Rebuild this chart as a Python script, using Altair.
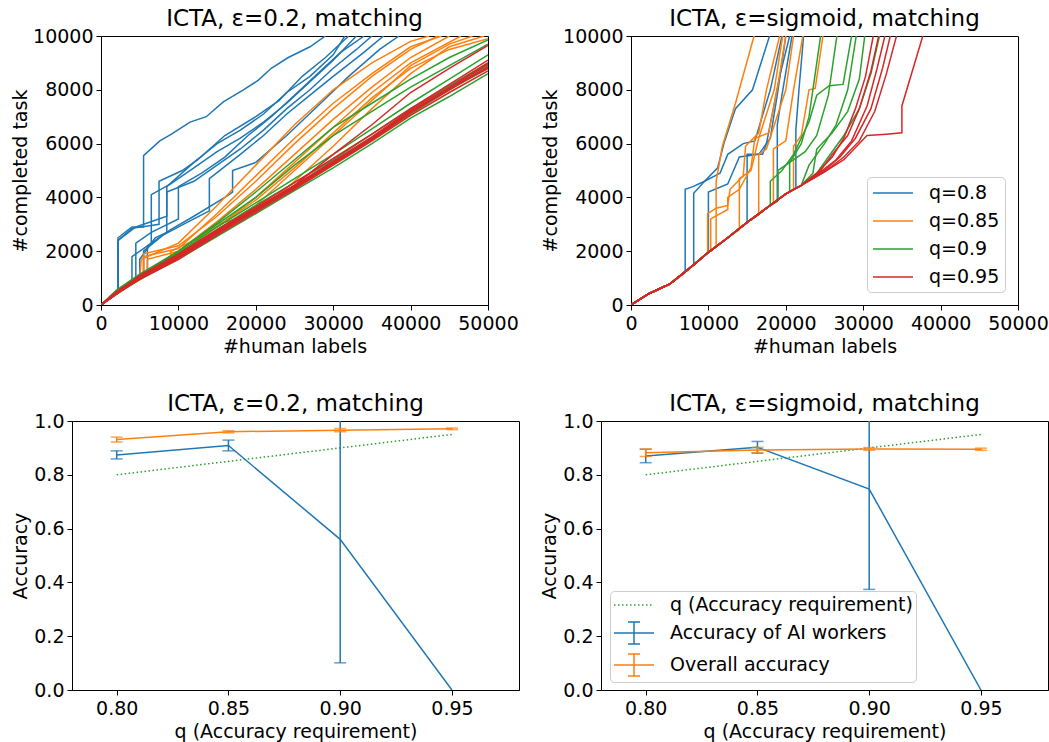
import altair as alt
import pandas as pd

# ---------------- data: top panels (#human labels vs #completed task) ----------------
Q_LABELS = ["q=0.8", "q=0.85", "q=0.9", "q=0.95"]
Q_COLORS = ["#1f77b4", "#ff7f0e", "#2ca02c", "#d62728"]

GRID_X = [0, 2000, 5000, 10000, 15000, 20000, 25000, 30000, 35000, 40000, 45000, 50000]

# Top-left: eps=0.2
TL_BLUE = [
    ([0, 1500, 2200, 2200, 4000, 5500, 5500, 7600, 9100, 11500, 13600, 15800, 18400, 20300, 22000, 24200, 27000, 29000],
     [0, 400, 450, 2500, 2900, 2900, 5550, 6100, 6350, 6800, 7000, 7550, 8000, 8350, 8800, 9200, 9600, 10000]),
    ([0, 2200, 2200, 4000, 7500, 7500, 10500, 12500, 16000, 20000, 23000, 26000, 29000, 32000],
     [0, 450, 2400, 2850, 3000, 4600, 5000, 5400, 6300, 7000, 7600, 8500, 9200, 10000]),
    ([0, 2000, 4000, 4000, 6000, 6500, 6500, 9000, 12000, 15000, 18000, 21000, 24000, 27000, 30000, 33000],
     [0, 450, 800, 1800, 2200, 2300, 4100, 4500, 5100, 5700, 6200, 6800, 7500, 8300, 9100, 10000]),
    ([0, 2000, 5000, 5000, 7000, 8500, 8500, 12000, 15000, 18000, 21000, 24000, 27000, 30000, 33000, 35000],
     [0, 450, 1000, 1700, 2500, 2700, 4200, 4600, 5200, 5800, 6500, 7300, 8000, 8800, 9500, 10000]),
    ([0, 2000, 5500, 5500, 8000, 12000, 14000, 14000, 18000, 21000, 24000, 27000, 30000, 34000, 36500],
     [0, 450, 1100, 2000, 2600, 3200, 3500, 4700, 5600, 6300, 7100, 7800, 8500, 9400, 10000]),
    ([0, 2000, 6000, 6000, 9000, 12000, 16000, 17000, 17000, 20000, 24000, 28000, 32000, 36000, 38500],
     [0, 450, 1150, 2200, 2800, 3300, 4000, 4200, 5000, 5300, 6300, 7400, 8500, 9500, 10000]),
    ([0, 2200, 2200, 4500, 8500, 8500, 12000, 15000, 18000, 21000, 24000, 27000, 30000, 31500],
     [0, 450, 2400, 2900, 3300, 4400, 5300, 6000, 6500, 7100, 7900, 8500, 9300, 10000]),
    ([0, 2000, 4500, 4500, 6500, 10000, 10000, 13000, 16000, 19000, 22000, 25000, 28000, 31000, 34000],
     [0, 450, 900, 2300, 2700, 3200, 4400, 4900, 5500, 6300, 7000, 7800, 8600, 9400, 10000]),
]
TL_ORANGE = [
    ([0, 2000, 5000, 5200, 10000, 15000, 20000, 25000, 30000, 35000, 40000, 42400],
     [0, 450, 1000, 1700, 2300, 3700, 5200, 6700, 8000, 9000, 9800, 10000]),
    ([0, 2000, 5500, 5500, 10000, 15000, 20000, 25000, 30000, 35000, 40000, 43500],
     [0, 450, 1050, 1900, 2200, 3300, 4600, 6000, 7300, 8500, 9500, 10000]),
    ([0, 2000, 6000, 6000, 10000, 15000, 20000, 25000, 30000, 35000, 40000, 45000],
     [0, 450, 1100, 1700, 2000, 3100, 4300, 5600, 6900, 8100, 9200, 10000]),
    ([0, 2000, 7000, 10000, 15000, 20000, 25000, 30000, 35000, 40000, 46500],
     [0, 450, 1300, 1900, 2900, 4000, 5300, 6600, 7900, 9000, 10000]),
    ([0, 2000, 5000, 10000, 15000, 20000, 25000, 30000, 35000, 40000, 45000, 48000],
     [0, 450, 1000, 1750, 2800, 3700, 5000, 6300, 7600, 8900, 9700, 10000]),
    ([0, 2000, 8000, 10000, 15000, 20000, 25000, 30000, 35000, 40000, 45000, 49500],
     [0, 450, 1500, 1800, 3000, 3400, 4600, 5900, 7300, 8600, 9600, 10000]),
    ([0, 2000, 5500, 5500, 10000, 15000, 20000, 25000, 30000, 35000, 40000, 44000],
     [0, 450, 1100, 1800, 2100, 3400, 4800, 6200, 7500, 8600, 9600, 10000]),
    ([0, 2000, 9000, 9000, 12000, 15000, 20000, 25000, 30000, 35000, 40000, 45000, 50000],
     [0, 450, 1600, 2000, 2400, 2900, 3900, 5100, 6400, 7700, 8800, 9500, 9900]),
]
TL_GREEN = [
    (GRID_X, [0, 500, 1100, 1900, 2800, 3700, 4550, 5400, 6350, 7300, 8150, 9000]),
    (GRID_X, [0, 450, 1050, 1850, 2750, 3600, 4450, 5300, 6200, 7200, 8000, 8800]),
    (GRID_X, [0, 550, 1150, 2000, 3000, 4000, 5200, 6300, 7200, 8100, 8900, 9700]),
    (GRID_X, [0, 500, 1100, 2000, 3050, 4200, 5400, 6600, 7500, 8400, 9200, 9850]),
    (GRID_X, [0, 400, 950, 1700, 2550, 3400, 4250, 5100, 6000, 6950, 7750, 8600]),
    (GRID_X, [0, 500, 1100, 1950, 2900, 3800, 4700, 5600, 6550, 7500, 8400, 9300]),
    (GRID_X, [0, 450, 1000, 1800, 2700, 3550, 4400, 5250, 6150, 7100, 8000, 8900]),
]
TL_RED = [
    (GRID_X, [0, 450, 1000, 1750, 2650, 3500, 4350, 5250, 6150, 7150, 8000, 8850]),
    (GRID_X, [0, 500, 1050, 1850, 2750, 3600, 4450, 5350, 6250, 7250, 8100, 9000]),
    (GRID_X, [0, 400, 950, 1700, 2600, 3450, 4300, 5200, 6100, 7050, 7900, 8700]),
    (GRID_X, [0, 450, 1100, 1900, 2800, 3650, 4550, 5450, 6350, 7300, 8200, 9100]),
    (GRID_X, [0, 500, 1000, 1800, 2700, 3550, 4400, 5300, 6200, 7200, 8050, 8950]),
    (GRID_X, [0, 450, 1000, 1800, 2700, 3550, 4450, 5600, 6700, 7900, 8800, 9650]),
    (GRID_X, [0, 400, 1000, 1750, 2650, 3550, 4400, 5300, 6200, 7150, 8050, 8800]),
]

# Top-right: eps=sigmoid. Every run follows the common start curve up to point k, then its own tail.
TR_BASE_X = [0, 2300, 5000, 7500, 10000, 12500, 15000, 17500, 20000, 22000]
TR_BASE_Y = [0, 420, 780, 1350, 1960, 2500, 3070, 3600, 4130, 4450]

TR_BLUE = [
    (3, [7000, 7000, 8000, 9500, 11200, 12000, 13500, 15700, 17900],
        [1200, 4300, 4400, 4600, 5100, 6000, 7300, 8000, 10000]),
    (4, [8100, 8100, 9500, 11500, 12500, 14500, 16000, 18000, 19500],
        [1500, 4150, 4600, 4900, 5600, 6000, 6100, 8000, 10000]),
    (5, [10000, 12500, 14000, 16500, 18000, 19000, 20000],
        [4200, 4500, 5500, 5600, 6200, 8000, 10000]),
    (7, [15000, 17000, 17500, 19200, 20500],
        [5600, 5600, 6000, 8500, 10000]),
    (8, [18900, 18900, 19500, 20800],
        [3850, 6700, 7800, 10000]),
    (9, [21300, 21300, 21700, 22300],
        [4350, 6500, 8000, 10000]),
]
TR_ORANGE = [
    (4, [9900, 9900, 11000, 12500, 12800, 14500, 14800, 16500, 17500, 19200],
        [1950, 3400, 3600, 3700, 4300, 4800, 5900, 6400, 8000, 10000]),
    (5, [10300, 10300, 12500, 12500, 14000, 15500, 16000, 17800, 19000, 20000],
        [2030, 3200, 3550, 4000, 4300, 5100, 6200, 6400, 8200, 10000]),
    (5, [11000, 11000, 11800, 13500, 15900],
        [2200, 4600, 5900, 7500, 10000]),
    (6, [14000, 14000, 15500, 16500, 18500, 19600],
        [2800, 4700, 5000, 6200, 8000, 10000]),
    (7, [16500, 16500, 17500, 18300, 20000, 21000],
        [3350, 5600, 5800, 6500, 8000, 10000]),
    (8, [18400, 18400, 20000, 21000, 22200],
        [3800, 5800, 6100, 8000, 10000]),
    (9, [21000, 21000, 22000, 23000, 23800, 24800],
        [4300, 5900, 6300, 8000, 8050, 10000]),
]
TR_GREEN = [
    (8, [18000, 18000, 19500, 21000, 23000, 24000, 25600, 27400, 28500],
        [3700, 4600, 5000, 5600, 6800, 7800, 8150, 8200, 10000]),
    (8, [19000, 19000, 20500, 22000, 23000, 24500],
        [3900, 5000, 5300, 6000, 7000, 10000]),
    (9, [20500, 20500, 22500, 24000, 25500, 26600],
        [4200, 5300, 5700, 6300, 7800, 10000]),
    (10, [23000, 25000, 26500, 28000, 29100],
         [5200, 6000, 6700, 8000, 10000]),
    (10, [23500, 24000, 26000, 28000, 29500, 30200],
         [4900, 5800, 6400, 7200, 8400, 10000]),
    (10, [24000, 25500, 27500, 29500, 31000, 32100],
         [4900, 5500, 6300, 7300, 8600, 10000]),
]
TR_RED = [
    (10, [24000, 26000, 27500, 29000, 30300, 31300],
         [4900, 5500, 6200, 7300, 8500, 10000]),
    (10, [24500, 26000, 28000, 29500, 31000, 32000],
         [5000, 5600, 6300, 7300, 8700, 10000]),
    (10, [24500, 26500, 28500, 30500, 31800, 32800],
         [4950, 5400, 6100, 7400, 8800, 10000]),
    (10, [25000, 27000, 29000, 31000, 32500, 33500],
         [5000, 5500, 6200, 7300, 8800, 10000]),
    (10, [25000, 27500, 29500, 31500, 33000, 34300],
         [4950, 5500, 6100, 7200, 8600, 10000]),
    (10, [25000, 27500, 30500, 33000, 35000, 35000, 37700],
         [4950, 5400, 6300, 6350, 6400, 7400, 10000]),
]

# ---------------- data: bottom panels (accuracy) ----------------
Q_VALUES = [0.80, 0.85, 0.90, 0.95]
BL_AI_MEAN = [0.874, 0.909, 0.560, 0.0]
BL_AI_ERR = [0.015, 0.020, 0.459, 0.0]
BL_ALL_MEAN = [0.931, 0.960, 0.966, 0.971]
BL_ALL_ERR = [0.009, 0.004, 0.006, 0.003]

BR_AI_MEAN = [0.870, 0.902, 0.747, 0.0]
BR_AI_ERR = [0.025, 0.022, 0.373, 0.0]
BR_ALL_MEAN = [0.882, 0.892, 0.896, 0.895]
BR_ALL_ERR = [0.014, 0.010, 0.005, 0.004]

LEG_LABELS = ["q (Accuracy requirement)", "Accuracy of AI workers", "Overall accuracy"]
GREEN, BLUE, ORANGE = "#2ca02c", "#1f77b4", "#ff7f0e"
# legend glyphs (unit = 10 px at symbol size 400): a 40 px line, and a line with an error bar
LINE_PATH = "M-1,0H3"
EB_PATH = "M-1,0H3M1,-1.1V1.1M0.4,-1.1H1.6M0.4,1.1H1.6"

FONT = "DejaVu Sans"
FS = 19


def runs_frame(groups):
    rows = []
    for label, runs in groups:
        for k, (xs, ys) in enumerate(runs):
            for i, (x, y) in enumerate(zip(xs, ys)):
                rows.append({"q": label, "run": f"{label}-{k}", "i": i, "x": x, "y": y})
    return pd.DataFrame(rows)


def with_base(runs):
    return [(TR_BASE_X[:k] + xs, TR_BASE_Y[:k] + ys) for k, xs, ys in runs]


tl_df = runs_frame(list(zip(Q_LABELS, [TL_BLUE, TL_ORANGE, TL_GREEN, TL_RED])))
tr_df = runs_frame(list(zip(Q_LABELS, [with_base(TR_BLUE), with_base(TR_ORANGE),
                                       with_base(TR_GREEN), with_base(TR_RED)])))


def title(text):
    return alt.Title(text, fontSize=23, fontWeight="normal", font=FONT, color="black",
                     anchor="middle", baseline="alphabetic", offset=-22)


def runs_chart(df, ttl, legend):
    return alt.Chart(df, title=title(ttl)).mark_line(strokeWidth=1.5, clip=True).encode(
        x=alt.X("x:Q", scale=alt.Scale(domain=[0, 50000], nice=False),
                axis=alt.Axis(values=[0, 10000, 20000, 30000, 40000, 50000], format="d",
                              title="#human labels", labelFlush=False, labelOverlap=False)),
        y=alt.Y("y:Q", scale=alt.Scale(domain=[0, 10000], nice=False),
                axis=alt.Axis(values=[0, 2000, 4000, 6000, 8000, 10000], format="d",
                              title="#completed task", titleX=-75, titleBaseline="alphabetic",
                              labelFlush=False, labelOverlap=False)),
        color=alt.Color("q:N", scale=alt.Scale(domain=Q_LABELS, range=Q_COLORS), legend=legend),
        detail="run:N",
        order="i:Q",
    ).properties(width=387, height=269)


tr_legend = alt.Legend(title=None, orient="none", legendX=236, legendY=141, symbolType=LINE_PATH,
                       symbolSize=400, symbolStrokeWidth=1.5, labelFontSize=FS, labelFont=FONT,
                       padding=5, rowPadding=7, labelOffset=35, fillColor="white",
                       strokeColor="#cccccc", cornerRadius=4)

tl = runs_chart(tl_df, "ICTA, ε=0.2, matching", None)
tr = runs_chart(tr_df, "ICTA, ε=sigmoid, matching", tr_legend)


def acc_chart(ttl, ai_mean, ai_err, all_mean, all_err, with_legend):
    qdf = pd.DataFrame({"q": Q_VALUES, "v": Q_VALUES})
    ai = pd.DataFrame({"q": Q_VALUES, "v": ai_mean, "e": ai_err})
    ov = pd.DataFrame({"q": Q_VALUES, "v": all_mean, "e": all_err})
    for d in (ai, ov):
        d["lo"] = d["v"] - d["e"]
        d["hi"] = d["v"] + d["e"]

    X = alt.X("q:Q", scale=alt.Scale(domain=[0.78, 0.98], nice=False, zero=False),
              axis=alt.Axis(values=Q_VALUES, format=".2f", title="q (Accuracy requirement)",
                            labelFlush=False, labelOverlap=False))

    def Y(f):
        return alt.Y(f + ":Q", scale=alt.Scale(domain=[0, 1], nice=False),
                     axis=alt.Axis(values=[0, 0.2, 0.4, 0.6, 0.8, 1.0], format=".1f", title="Accuracy",
                                   titleX=-46, titleBaseline="alphabetic", labelFlush=False,
                                   labelOverlap=False),
                     title="Accuracy")

    layers = [
        alt.Chart(qdf).mark_line(color=GREEN, strokeWidth=1.5, strokeDash=[1.5, 2.5], clip=True)
        .encode(x=X, y=Y("v")),
    ]
    for d, col in ((ai, BLUE), (ov, ORANGE)):
        eb = d[d["e"] > 0]
        layers += [
            alt.Chart(d).mark_line(color=col, strokeWidth=1.5, clip=True).encode(x=X, y=Y("v")),
            alt.Chart(eb).mark_rule(color=col, strokeWidth=1.5, clip=True)
            .encode(x=X, y=Y("lo"), y2="hi:Q"),
            alt.Chart(eb).mark_tick(color=col, orient="horizontal", size=12, thickness=1.5, clip=True)
            .encode(x=X, y=Y("lo")),
            alt.Chart(eb).mark_tick(color=col, orient="horizontal", size=12, thickness=1.5, clip=True)
            .encode(x=X, y=Y("hi")),
        ]
    if with_legend:
        leg = alt.Legend(title=None, orient="none", legendX=9, legendY=170, symbolSize=400,
                         symbolStrokeWidth=1.5, labelFontSize=FS, labelFont=FONT, labelLimit=400,
                         padding=3, rowPadding=4, labelOffset=35, fillColor="white",
                         strokeColor="#cccccc", cornerRadius=4)
        ldf = pd.DataFrame({"s": LEG_LABELS})
        layers.append(
            alt.Chart(ldf).mark_point(filled=False, opacity=1, strokeWidth=1.5).encode(
                color=alt.Color("s:N", scale=alt.Scale(domain=LEG_LABELS, range=[GREEN, BLUE, ORANGE]),
                                legend=leg),
                shape=alt.Shape("s:N", scale=alt.Scale(domain=LEG_LABELS,
                                                       range=[LINE_PATH, EB_PATH, EB_PATH]), legend=leg),
                strokeDash=alt.StrokeDash("s:N", scale=alt.Scale(domain=LEG_LABELS,
                                                                 range=[[1.5, 2.5], [1, 0], [1, 0]]),
                                          legend=leg),
            ).transform_filter("false")
        )
    return alt.layer(*layers, title=title(ttl)).properties(width=447, height=269)


def spacer(w):
    return alt.Chart(pd.DataFrame({"s": [0]})).mark_point(opacity=0).properties(
        width=w, height=269, view=alt.ViewBackground(strokeOpacity=0, strokeWidth=0))


bl = acc_chart("ICTA, ε=0.2, matching", BL_AI_MEAN, BL_AI_ERR, BL_ALL_MEAN, BL_ALL_ERR, False)
br = acc_chart("ICTA, ε=sigmoid, matching", BR_AI_MEAN, BR_AI_ERR, BR_ALL_MEAN, BR_ALL_ERR, True)

top = alt.hconcat(spacer(29), tl, spacer(143), tr, spacing=0, bounds="flush").resolve_scale(
    color="independent")
bottom = alt.hconcat(bl, br, spacing=82, bounds="flush").resolve_scale(
    color="independent", shape="independent", strokeDash="independent")

chart = alt.concat(top, bottom, columns=1, align="none", spacing=35).resolve_scale(
    color="independent", shape="independent", strokeDash="independent"
).properties(
    padding={"left": 10, "top": 7, "right": 0, "bottom": 0},
    background="white",
).configure_view(stroke="black", strokeWidth=1).configure_axis(
    grid=False, domainColor="black", domainWidth=1, tickColor="black", tickSize=5, tickWidth=1,
    labelFont=FONT, labelFontSize=FS, labelColor="black", labelPadding=3,
    titleFont=FONT, titleFontSize=FS, titleFontWeight="normal", titleColor="black", titlePadding=4,
).configure_axisX(labelPadding=4)

chart.save("out.html", embed_options={"renderer": "svg", "actions": False})
